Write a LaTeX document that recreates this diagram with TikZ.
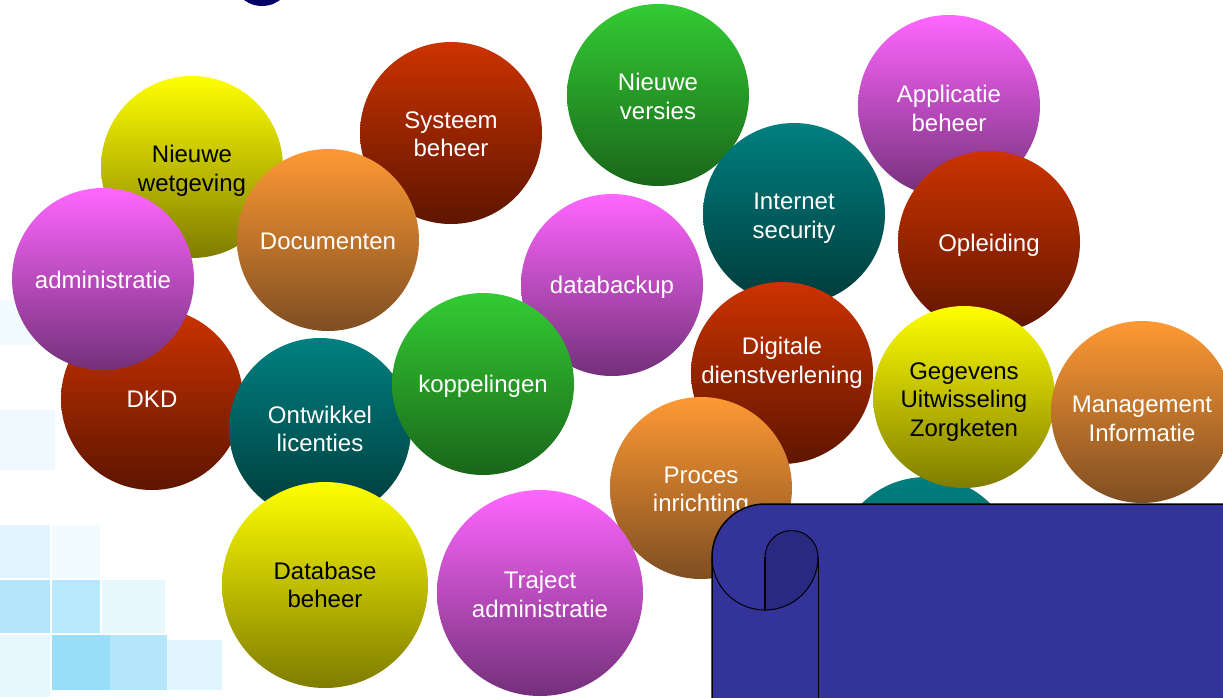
\documentclass[tikz,border=0pt]{standalone}
\usepackage{fontspec}
\newfontfamily\arial{Liberation Sans}

\definecolor{ytop}{HTML}{FFFF00}
\definecolor{ybot}{HTML}{7F7C00}
\definecolor{rtop}{HTML}{CC3300}
\definecolor{rbot}{HTML}{5E1500}
\definecolor{gtop}{HTML}{33CC33}
\definecolor{gbot}{HTML}{1A661A}
\definecolor{ttop}{HTML}{008080}
\definecolor{tbot}{HTML}{003A3A}
\definecolor{mtop}{HTML}{FF66FF}
\definecolor{mbot}{HTML}{73307A}
\definecolor{otop}{HTML}{FF9933}
\definecolor{obot}{HTML}{7E4E22}
\definecolor{navy}{HTML}{000066}
\definecolor{scroll}{HTML}{333399}
\definecolor{scrolldark}{HTML}{29297F}

\begin{document}
\begin{tikzpicture}[x=1pt,y=-1pt,
  bubble/.style={circle,minimum size=182pt,inner sep=0pt},
  big bubble/.style={minimum size=206pt},
  bt/.style={align=center,inner sep=0pt,text=white,
    font=\arial\fontsize{24}{28.5}\selectfont},
  yellow bubble/.style={bubble,top color=ytop,bottom color=ybot},
  red bubble/.style={bubble,top color=rtop,bottom color=rbot},
  green bubble/.style={bubble,top color=gtop,bottom color=gbot},
  teal bubble/.style={bubble,top color=ttop,bottom color=tbot},
  pink bubble/.style={bubble,top color=mtop,bottom color=mbot},
  orange bubble/.style={bubble,top color=otop,bottom color=obot}]

\useasboundingbox (0,0) rectangle (1223,697);

% background squares
\fill[cyan!5] (0,300) rectangle (55,345);
\fill[cyan!6] (0,410) rectangle (55,470);
\fill[cyan!12] (0,525) rectangle (50,578);
\fill[cyan!5] (52,525) rectangle (100,578);
\fill[cyan!30] (0,580) rectangle (50,633);
\fill[cyan!28] (52,580) rectangle (100,633);
\fill[cyan!10] (102,580) rectangle (165,633);
\fill[cyan!10] (0,635) rectangle (50,697);
\fill[cyan!40] (52,635) rectangle (110,690);
\fill[cyan!30] (110,635) rectangle (167,690);
\fill[cyan!12] (167,640) rectangle (222,690);

\fill[navy] (262,-24) circle (30);

\node[teal bubble] (hidden) at (926,568) {};
\node[yellow bubble,label={[bt,text=black,yshift=-4pt]center:{Nieuwe\\wetgeving}}] (wet) at (192,167) {};
\node[red bubble,label={[bt,yshift=-1pt]center:{Systeem\\beheer}}] (sys) at (451,133) {};
\node[green bubble,label={[bt,yshift=-1.5pt]center:{Nieuwe\\versies}}] (ver) at (658,95) {};
\node[pink bubble,label={[bt,yshift=-2.5pt]center:{Applicatie\\beheer}}] (app) at (949,106) {};
\node[teal bubble,label={[bt,yshift=-4pt]center:{Internet\\security}}] (sec) at (794,214) {};
\node[red bubble,label={[bt,yshift=-3pt]center:{Opleiding}}] (opl) at (989,242) {};
\node[red bubble,label={[bt]center:{DKD}}] (dkd) at (152,399) {};
\node[pink bubble,label={[bt,yshift=-1pt]center:{administratie}}] (adm) at (103,279) {};
\node[orange bubble,label={[bt,yshift=-1pt]center:{Documenten}}] (doc) at (328,240) {};
\node[pink bubble,label={[bt,yshift=-2pt]center:{databackup}}] (bck) at (612,285) {};
\node[teal bubble,label={[bt]center:{Ontwikkel\\licenties}}] (ontw) at (320,429) {};
\node[green bubble,label={[bt,yshift=-2pt]center:{koppelingen}}] (kop) at (483,384) {};
\node[red bubble,label={[bt,yshift=10pt]center:{Digitale\\dienstverlening}}] (dig) at (782,373) {};
\node[yellow bubble,label={[bt,text=black,yshift=-5pt]center:{Gegevens\\Uitwisseling\\Zorgketen}}] (geg) at (964,397) {};
\node[orange bubble,label={[bt,yshift=-7pt]center:{Management\\Informatie}}] (man) at (1142,412) {};
\node[orange bubble,label={[bt,yshift=-3.5pt]center:{Proces\\inrichting}}] (proc) at (701,488) {};
\node[yellow bubble,big bubble,label={[bt,text=black]center:{Database\\beheer}}] (db) at (325,585) {};
\node[pink bubble,big bubble,label={[bt,yshift=-1.5pt]center:{Traject\\administratie}}] (traj) at (540,593) {};

% scroll
\filldraw[fill=scroll,draw=black,line width=1.5pt] (712,700) -- (712,557)
  arc[start angle=180,end angle=270,radius=53] -- (1226,504) -- (1226,700) -- cycle;
\filldraw[fill=scrolldark,draw=black,line width=1pt] (765,610) -- (765,557)
  arc[start angle=180,end angle=360,radius=26.5]
  arc[start angle=0,end angle=90,radius=53] -- cycle;
\draw[line width=1pt] (712,557) arc[start angle=180,end angle=90,radius=53];
\draw[line width=2pt] (765,557) -- (765,611);
\draw[line width=0.8pt] (818,557) -- (818,700);

\end{tikzpicture}
\end{document}
